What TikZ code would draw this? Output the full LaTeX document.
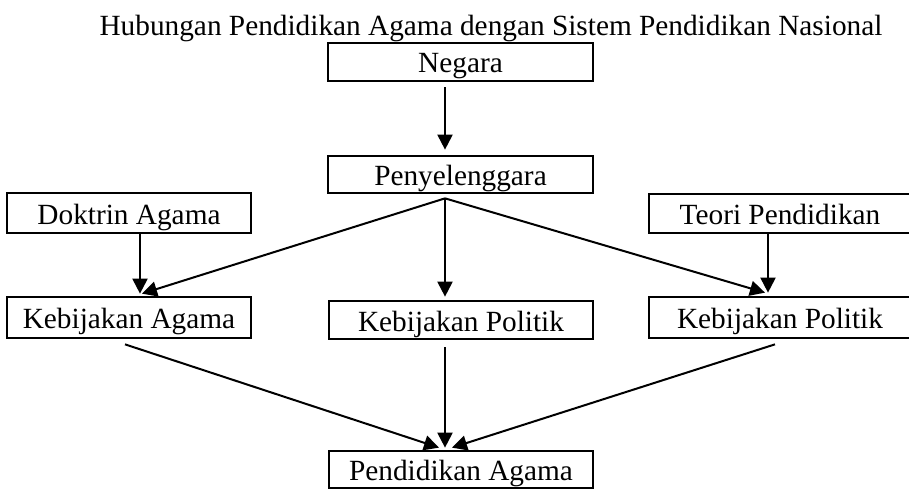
\documentclass[tikz,border=0pt]{standalone}
\usepackage{fontspec}
\setmainfont{Liberation Serif}
\usetikzlibrary{arrows.meta, positioning, calc}

\tikzset{
  kotak/.style={draw, line width=2.7pt, inner sep=0pt, minimum height=38pt,
    text height=22pt, text depth=0pt, font=\fontsize{29.3pt}{34pt}\selectfont},
  panah/.style={line width=2pt, -{Triangle[length=15pt,width=15pt]}}
}

\begin{document}
\begin{tikzpicture}[x=1pt, y=-1pt]
\useasboundingbox (0,0) rectangle (909,489);
\clip (0,0) rectangle (909,489);

% Title
\node[anchor=base, font=\fontsize{29.3pt}{34pt}\selectfont] (judul) at (491,36)
  {Hubungan Pendidikan Agama dengan Sistem Pendidikan Nasional};

% Draw the boxes
\node[kotak, minimum width=265pt] (negara) at (460.5,62) {Negara};
\node[kotak, minimum width=265pt, minimum height=37pt] (penyelenggara) at (460.5,174.5) {Penyelenggara};
\node[kotak, minimum width=244pt, minimum height=40pt] (doktrin) at (129,213) {Doktrin Agama};
\node[kotak, minimum width=262pt, minimum height=39pt] (teori) at (780,213.5) {Teori Pendidikan};
\node[kotak, minimum width=244pt, minimum height=41pt] (kebagama) at (129,317.5) {Kebijakan Agama};
\node[kotak, minimum width=264pt] (kebpolitik) at (461,320) {Kebijakan Politik};
\node[kotak, minimum width=262pt, minimum height=41pt] (kebpolitikr) at (780,317.5) {Kebijakan Politik};
\node[kotak, minimum width=264pt, minimum height=37pt] (pendidikan) at (461,469.5) {Pendidikan Agama};

% Arrow end points
\coordinate (tengah) at (445,0);
\coordinate (kiri) at (140,0);
\coordinate (kanan) at (768,0);
\coordinate (atas) at ($(penyelenggara.south -| tengah)+(0,4)$);
\coordinate (bawah) at ($(pendidikan.north -| tengah)+(0,-2)$);

% Draw the arrows
\draw[panah] ($(negara.south -| tengah)+(0,5)$) -- ($(penyelenggara.north -| tengah)+(0,-5)$);
\draw[panah] (atas) -- ($(kebagama.north -| kiri)+(2,-2)$);
\draw[panah] (atas) -- ($(kebpolitik.north -| tengah)+(0,-3)$);
\draw[panah] (atas) -- ($(kebpolitikr.north -| kanan)+(-3,-3)$);
\draw[panah] (doktrin.south -| kiri) -- ($(kebagama.north -| kiri)+(0,-2)$);
\draw[panah] (teori.south -| kanan) -- ($(kebpolitikr.north -| kanan)+(0,-3)$);
\draw[panah] ($(kebagama.south)+(-4,5)$) -- ($(bawah)+(-6,0)$);
\draw[panah] ($(kebpolitik.south -| tengah)+(0,7)$) -- (bawah);
\draw[panah] ($(kebpolitikr.south)+(-5,5)$) -- ($(bawah)+(7,0)$);
\end{tikzpicture}
\end{document}
